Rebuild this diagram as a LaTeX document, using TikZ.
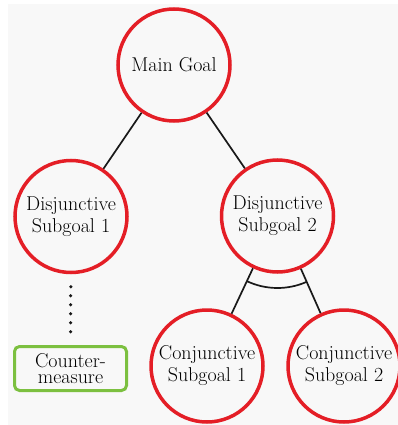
\documentclass[tikz,border=0pt]{standalone}
\usepackage{fontspec}
\usetikzlibrary{calc}
\definecolor{goalred}{RGB}{228,30,38}
\definecolor{cmgreen}{RGB}{124,192,64}
\definecolor{paper}{RGB}{248,248,248}
\begin{document}
\begin{tikzpicture}[x=1pt,y=-1pt,
  goal/.style={circle,draw=goalred,line width=3.5pt,minimum size=112pt,
    inner sep=0pt,align=center,font=\fontsize{20}{22}\selectfont},
  measurebox/.style={rectangle,rounded corners=5pt,draw=cmgreen,line width=3pt,
    minimum width=112pt,minimum height=44pt,inner sep=0pt,align=center,
    font=\fontsize{20}{15.5}\selectfont},
  link/.style={line width=1.7pt,black!90},
  dotlink/.style={line width=3.5pt,line cap=round,dash pattern=on 0pt off 9pt,black!90}]
  % canvas
  \useasboundingbox (0,0) rectangle (398,425);
  \fill[white] (0,0) rectangle (398,425);
  \fill[paper] (8,4) rectangle (398,425);
  \begin{scope}
  \clip (0,0) rectangle (398,425);
  % goal tree
  \node[goal] (main) at (174,65) {Main Goal};
  \node[goal] (ds1) at (71,216.5) {Disjunctive\\Subgoal 1};
  \node[goal] (ds2) at (277.5,216) {Disjunctive\\Subgoal 2};
  \node[goal] (cs1) at (207,366) {Conjunctive\\Subgoal 1};
  \node[goal] (cs2) at (344,366) {Conjunctive\\Subgoal 2};
  \node[measurebox] (cm) at (70.5,368.5) {Counter-\\measure};
  % connectors
  \draw[link] (main) -- (ds1);
  \draw[link] (main) -- (ds2);
  \draw[link] (ds2) -- (cs1);
  \draw[link] (ds2) -- (cs2);
  \draw[dotlink,shorten <=12.5pt,shorten >=5.5pt] (ds1) -- (cm);
  % conjunction arc
  \draw[link] let \p1=($(cs1)-(ds2)$), \p2=($(cs2)-(ds2)$),
      \n1={atan2(\y1,\x1)}, \n2={atan2(\y2,\x2)} in
    ($(ds2)!72pt!(cs1)$) arc[start angle=\n1, end angle=\n2, radius=72pt];
  \end{scope}
\end{tikzpicture}
\end{document}
